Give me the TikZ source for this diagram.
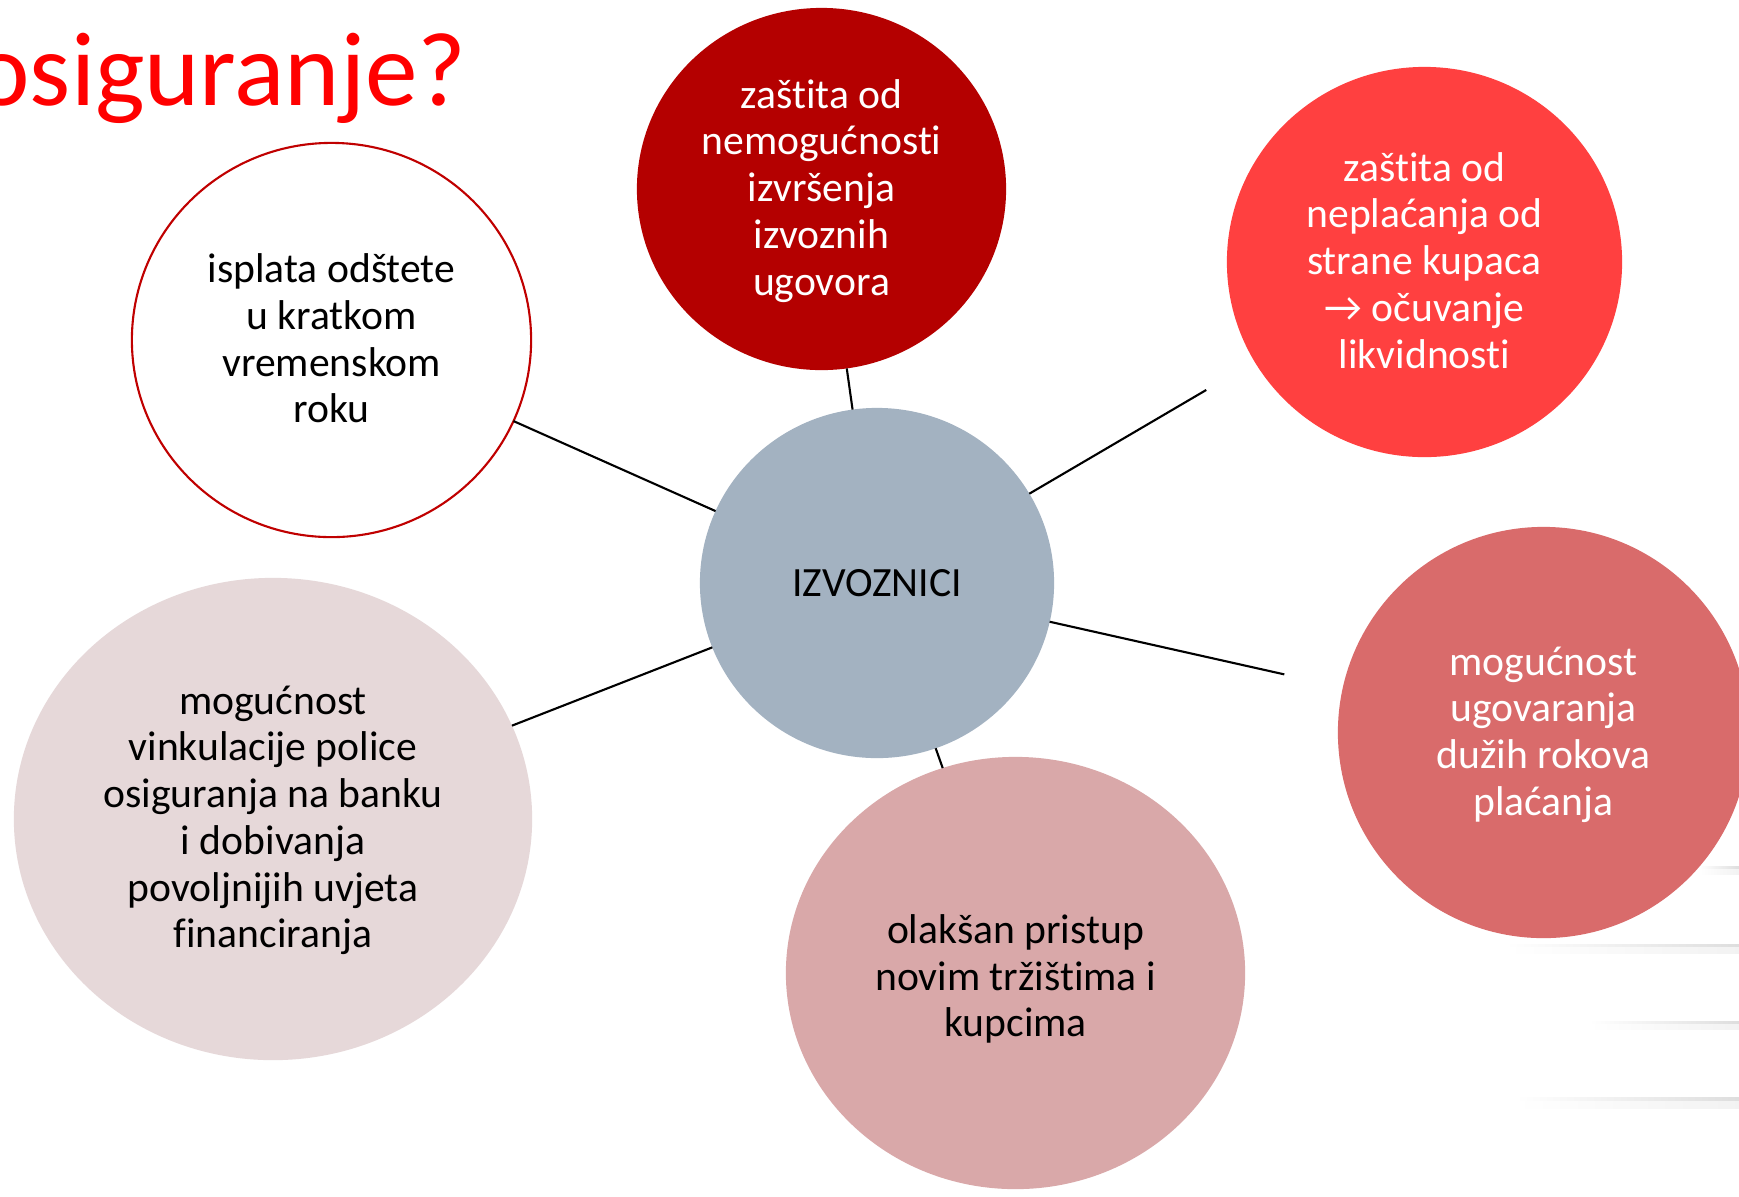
\documentclass[tikz,border=0pt]{standalone}
\usepackage{fontspec}
\setmainfont{Carlito}[Ligatures={NoCommon,NoRequired,NoContextual},RawFeature={-liga;-clig;-calt;-dlig}]
\usetikzlibrary{shapes.geometric}
\definecolor{titlered}{RGB}{255,0,0}
\definecolor{ringred}{RGB}{192,0,0}
\definecolor{darkfill}{RGB}{180,0,0}
\definecolor{redfill}{RGB}{255,64,64}
\definecolor{hubfill}{RGB}{163,178,193}
\definecolor{palefill}{RGB}{230,216,217}
\definecolor{pinkfill}{RGB}{217,168,169}
\definecolor{rosefill}{RGB}{217,107,107}
\newcommand\topfix[1]{\rule{0pt}{\dimexpr 9.3pt+#1\relax}}
\newcommand\tsep{t\kern0pt i}
\begin{document}
\begin{tikzpicture}[x=0.01cm,y=-0.01cm,
  bubble/.style={ellipse, inner sep=0pt, outer sep=0pt, align=center,
    font=\fontsize{11.84pt}{13.29pt}\selectfont},
  link/.style={draw=black, line width=0.6pt},
  shadowline/.style={left color=white, right color=black!13},
  shadowsoft/.style={left color=white, right color=black!5}]
\useasboundingbox (0,0) rectangle (1739,1196);
\fill[white] (0,0) rectangle (1739,1196);
% faint background shadows
\shade[shadowsoft] (1700,868) rectangle (1739,874);
\shade[shadowline] (1700,866) rectangle (1739,868);
\shade[shadowsoft] (1506,946) rectangle (1739,953);
\shade[shadowline] (1506,944) rectangle (1739,946);
\shade[shadowsoft] (1589,1023) rectangle (1739,1029);
\shade[shadowline] (1589,1021) rectangle (1739,1023);
\shade[shadowsoft] (1516,1100) rectangle (1739,1108);
\shade[shadowline] (1516,1097) rectangle (1739,1100);
% title
\node[anchor=base east, inner sep=0pt, text=titlered,
  font=\fontsize{29.9pt}{36pt}\selectfont] (title) at (467,105) {osiguranje?};
% bubbles
\node[bubble, draw=ringred, line width=0.6pt, fill=white, text=black,
  minimum width=3.99cm, minimum height=3.94cm] (A) at (331.5,340)
  {\topfix{1.9pt}isplata odštete\\u kratkom\\vremenskom\\roku\strut};
\node[bubble, fill=darkfill, text=white,
  minimum width=3.69cm, minimum height=3.62cm] (B) at (821.5,189)
  {\topfix{1.9pt}zaš\tsep ta od\\nemogućnos\tsep\\izvršenja\\izvoznih\\ugovora\strut};
\node[bubble, fill=redfill, text=white,
  minimum width=3.95cm, minimum height=3.90cm] (C) at (1424.5,262)
  {\topfix{1.9pt}zaš\tsep ta od\\neplaćanja od\\strane kupaca\\→ očuvanje\\likvidnos\tsep\strut};
\node[bubble, fill=hubfill, text=black,
  minimum width=3.54cm, minimum height=3.50cm] (D) at (877,583)
  {IZVOZNICI};
\node[bubble, fill=palefill, text=black,
  minimum width=5.18cm, minimum height=4.82cm] (E) at (273,819)
  {\topfix{1.5pt}mogućnost\\vinkulacije police\\osiguranja na banku\\i dobivanja\\povoljnijih uvjeta\\financiranja\strut};
\node[bubble, fill=pinkfill, text=black,
  minimum width=4.59cm, minimum height=4.32cm] (F) at (1015.5,973)
  {\topfix{4.4pt}olakšan pristup\\novim tržiš\tsep ma i\\kupcima\strut};
\node[bubble, fill=rosefill, text=white,
  minimum width=4.11cm, minimum height=4.11cm] (G) at (1543.5,732.5)
  {\topfix{1.9pt}mogućnost\\ugovaranja\\dužih rokova\\plaćanja\strut};
% connectors
\draw[link] (D) -- (A);
\draw[link] (D) -- (B);
\draw[link, shorten >=0.56cm] (D) -- (C);
\draw[link, shorten >=0.60cm] (D) -- (G);
\draw[link] (D) -- (E);
\draw[link] (D) -- (F);
\end{tikzpicture}
\end{document}
